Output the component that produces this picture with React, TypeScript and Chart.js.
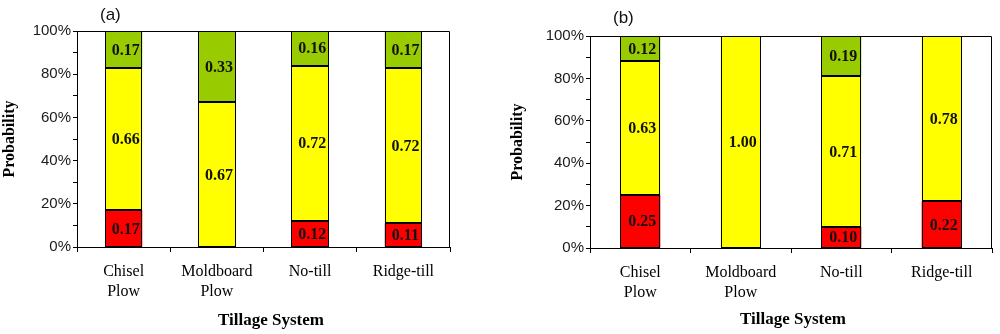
import React, { useEffect, useRef } from 'react';
import { Chart, registerables } from 'chart.js';

Chart.register(...registerables);

// ---- data ----
const categories: (string | string[])[] = [['Chisel', 'Plow'], ['Moldboard', 'Plow'], 'No-till', 'Ridge-till'];
const seriesColors = ['#FF0000', '#FFFF00', '#99CC00'];

const aRed = [0.17, 0, 0.12, 0.11];
const aYellow = [0.66, 0.67, 0.72, 0.72];
const aGreen = [0.17, 0.33, 0.16, 0.17];

const bRed = [0.25, 0, 0.10, 0.22];
const bYellow = [0.63, 1.0, 0.71, 0.78];
const bGreen = [0.12, 0, 0.19, 0];

const yTickValues = [0, 0.1, 0.2, 0.3, 0.4, 0.5, 0.6, 0.7, 0.8, 0.9, 1.0];
const yTickLabels = ['0%', '', '20%', '', '40%', '', '60%', '', '80%', '', '100%'];

const yTitle = 'Probability';
const xTitle = 'Tillage System';

const SERIF = '"Liberation Serif", "Times New Roman", serif';
const SANS = '"Liberation Sans", Arial, sans-serif';

const framePlugin = {
  id: 'frame',
  afterDatasetsDraw(chart: any) {
    const { ctx, chartArea } = chart;
    const l = Math.round(chartArea.left) + 0.5;
    const r = Math.round(chartArea.right) - 0.5;
    const t = Math.round(chartArea.top) + 0.5;
    const b = Math.round(chartArea.bottom);
    ctx.save();
    ctx.strokeStyle = '#000';
    ctx.lineWidth = 1;
    ctx.beginPath();
    ctx.moveTo(l, t);
    ctx.lineTo(r, t);
    ctx.lineTo(r, b);
    ctx.stroke();
    ctx.restore();
  },
};

// crisp 1px outline around each non-zero bar segment, then the value label
const barOutlinePlugin = {
  id: 'barOutline',
  afterDatasetsDraw(chart: any) {
    const { ctx } = chart;
    ctx.save();
    ctx.strokeStyle = '#000';
    ctx.lineWidth = 1;
    chart.data.datasets.forEach((ds: any, i: number) => {
      const meta = chart.getDatasetMeta(i);
      meta.data.forEach((bar: any, j: number) => {
        const v = ds.data[j];
        if (!v) return;
        const { x, y, base, width } = bar.getProps(['x', 'y', 'base', 'width'], true);
        const l = Math.round(x - width / 2) + 0.5;
        const r = Math.round(x + width / 2) - 0.5;
        const t = Math.round(Math.min(y, base)) + 0.5;
        const b = Math.round(Math.max(y, base)) - 0.5;
        ctx.strokeRect(l, t, r - l, b - t);
      });
    });
    ctx.font = `bold 16px ${SERIF}`;
    ctx.fillStyle = '#111';
    ctx.textAlign = 'center';
    ctx.textBaseline = 'middle';
    chart.data.datasets.forEach((ds: any, i: number) => {
      const meta = chart.getDatasetMeta(i);
      meta.data.forEach((bar: any, j: number) => {
        const v = ds.data[j];
        if (!v) return;
        const { x, y, base } = bar.getProps(['x', 'y', 'base'], true);
        ctx.fillText(v.toFixed(2), x + 2, (y + base) / 2 + 1);
      });
    });
    ctx.restore();
  },
};

const extraTextPlugin = {
  id: 'extraText',
  afterDraw(chart: any, _args: any, opts: any) {
    const { ctx } = chart;
    ctx.save();
    ctx.fillStyle = '#111';
    ctx.font = `17px ${SANS}`;
    ctx.textAlign = 'left';
    ctx.textBaseline = 'middle';
    ctx.fillText(opts.panel, opts.panelX, opts.panelY);
    ctx.fillStyle = '#000';
    ctx.font = `bold 17px ${SERIF}`;
    ctx.textAlign = 'center';
    ctx.textBaseline = 'alphabetic';
    ctx.fillText(opts.xTitle, opts.xTitleX, opts.xTitleY);
    ctx.restore();
  },
};

type PanelSpec = {
  red: number[];
  yellow: number[];
  green: number[];
  panel: string;
  panelX: number;
  panelY: number;
  xTitleX: number;
  xTitleY: number;
  top: number;
  right: number;
  yw: number;
  xh: number;
  ytp: number;
};

function makeConfig(p: PanelSpec): any {
  const mk = (data: number[], color: string) => ({
    data,
    backgroundColor: color,
    borderWidth: 0,
    barPercentage: 0.4,
    categoryPercentage: 1,
  });
  return {
    type: 'bar',
    data: {
      labels: categories,
      datasets: [mk(p.red, seriesColors[0]), mk(p.yellow, seriesColors[1]), mk(p.green, seriesColors[2])],
    },
    options: {
      animation: false,
      responsive: false,
      layout: { padding: { left: 0, top: p.top, right: p.right, bottom: 0 } },
      plugins: {
        legend: { display: false },
        tooltip: { enabled: false },
        extraText: { panel: p.panel, panelX: p.panelX, panelY: p.panelY, xTitle, xTitleX: p.xTitleX, xTitleY: p.xTitleY },
      },
      scales: {
        x: {
          stacked: true,
          grid: { offset: true, drawOnChartArea: false, tickLength: 5, color: '#000' },
          border: { color: '#000' },
          ticks: { color: '#000', font: { family: SERIF, size: 16, lineHeight: 1.3 }, padding: 9, maxRotation: 0, autoSkip: false },
          afterFit: (s: any) => {
            s.height = p.xh;
          },
        },
        y: {
          stacked: true,
          min: 0,
          max: 1,
          afterBuildTicks: (s: any) => {
            s.ticks = yTickValues.map((v) => ({ value: v }));
          },
          ticks: {
            color: '#1a1a1a',
            font: { family: SANS, size: 15 },
            padding: 2,
            callback: (_v: any, i: number) => yTickLabels[i],
          },
          grid: { drawOnChartArea: false, tickLength: 4, color: '#000' },
          border: { color: '#000' },
          title: {
            display: true,
            text: yTitle,
            color: '#000',
            font: { family: SERIF, size: 16, weight: 'bold' },
            padding: { top: p.ytp, bottom: 0 },
          },
          afterFit: (s: any) => {
            s.width = p.yw;
          },
        },
      },
    },
    plugins: [framePlugin, barOutlinePlugin, extraTextPlugin],
  };
}

const panelA: PanelSpec = {
  red: aRed, yellow: aYellow, green: aGreen,
  panel: '(a)', panelX: 100, panelY: 15,
  xTitleX: 271, xTitleY: 325,
  top: 31, right: 50, yw: 77, xh: 87, ytp: 0,
};

const panelB: PanelSpec = {
  red: bRed, yellow: bYellow, green: bGreen,
  panel: '(b)', panelX: 113, panelY: 18,
  xTitleX: 293, xTitleY: 324,
  top: 36, right: 8, yw: 90, xh: 86, ytp: 8,
};

function Panel({ spec, left }: { spec: PanelSpec; left: number }) {
  const ref = useRef<HTMLCanvasElement>(null);
  useEffect(() => {
    if (!ref.current) return;
    const chart = new Chart(ref.current, makeConfig(spec));
    return () => chart.destroy();
  }, [spec]);
  return (
    <canvas
      ref={ref}
      width={500}
      height={334}
      style={{ position: 'absolute', left, top: 0, width: 500, height: 334, display: 'block' }}
    />
  );
}

export default function App() {
  return (
    <div style={{ position: 'absolute', left: 0, top: 0, width: 1000, height: 334, background: '#fff', overflow: 'hidden' }}>
      <Panel spec={panelA} left={0} />
      <Panel spec={panelB} left={500} />
    </div>
  );
}
